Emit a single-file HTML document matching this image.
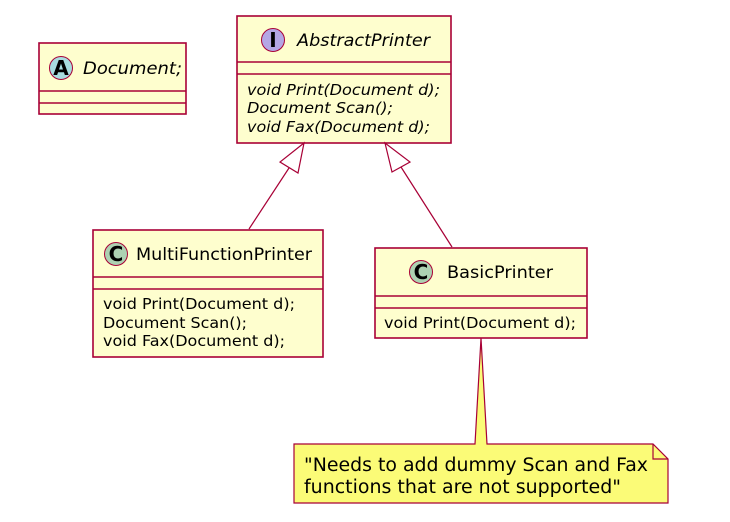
<!DOCTYPE html>
<html><head><meta charset="utf-8"><style>
html,body{margin:0;padding:0;background:#fff;}
svg{display:block;font-family:"DejaVu Sans","Liberation Sans",sans-serif;}
</style></head><body>
<svg width="730" height="522" viewBox="0 0 730 522" xmlns="http://www.w3.org/2000/svg">
<g stroke="#A80036" stroke-width="1.6" fill="#FEFECE">
<rect x="39" y="43" width="147" height="71"/>
<line x1="39" y1="91" x2="186" y2="91"/>
<line x1="39" y1="103" x2="186" y2="103"/>
<rect x="237" y="16" width="214" height="127"/>
<line x1="237" y1="62" x2="451" y2="62"/>
<line x1="237" y1="74" x2="451" y2="74"/>
<rect x="93" y="230" width="230" height="127"/>
<line x1="93" y1="277" x2="323" y2="277"/>
<line x1="93" y1="289" x2="323" y2="289"/>
<rect x="375" y="248" width="212" height="90"/>
<line x1="375" y1="296" x2="587" y2="296"/>
<line x1="375" y1="308" x2="587" y2="308"/>
</g>
<g stroke="#A80036" stroke-width="1" fill="#ADD1B2">
<circle cx="61" cy="68" r="11.5" fill="#A9DCDF"/>
<circle cx="273" cy="40" r="11.5" fill="#B4A7E5"/>
<circle cx="116" cy="254" r="11.5"/>
<circle cx="421" cy="272" r="11.5"/>
</g>
<g font-weight="bold" font-size="20" text-anchor="middle" fill="#000">
<text x="61" y="75">A</text>
<text x="273" y="47">I</text>
<text x="116" y="261">C</text>
<text x="421" y="279">C</text>
</g>
<g font-size="17" fill="#000">
<text x="83" y="74" font-style="italic" textLength="99" lengthAdjust="spacingAndGlyphs">Document;</text>
<text x="297" y="46" font-style="italic" textLength="133" lengthAdjust="spacingAndGlyphs">AbstractPrinter</text>
<text x="136" y="260" textLength="176" lengthAdjust="spacingAndGlyphs">MultiFunctionPrinter</text>
<text x="447" y="278" textLength="106" lengthAdjust="spacingAndGlyphs">BasicPrinter</text>
</g>
<g font-size="15.5" fill="#000">
<text font-style="italic" x="247" y="95" textLength="193" lengthAdjust="spacingAndGlyphs">void Print(Document d);</text>
<text font-style="italic" x="247" y="113" textLength="146" lengthAdjust="spacingAndGlyphs">Document Scan();</text>
<text font-style="italic" x="247" y="132" textLength="183" lengthAdjust="spacingAndGlyphs">void Fax(Document d);</text>
<text x="103" y="309" textLength="192" lengthAdjust="spacingAndGlyphs">void Print(Document d);</text>
<text x="103" y="328" textLength="144" lengthAdjust="spacingAndGlyphs">Document Scan();</text>
<text x="103" y="346" textLength="182" lengthAdjust="spacingAndGlyphs">void Fax(Document d);</text>
<text x="384" y="328" textLength="192" lengthAdjust="spacingAndGlyphs">void Print(Document d);</text>
</g>
<g stroke="#A80036" stroke-width="1.2" fill="none">
<line x1="249" y1="229" x2="289" y2="168"/>
<polygon points="304,143 280,162 298,173" fill="#fff"/>
<line x1="452" y1="247" x2="401" y2="167"/>
<polygon points="385,143 392,172 410,162" fill="#fff"/>
</g>
<path d="M294,444 L475,444 L481,338 L487,444 L653,444 L668,459 L668,503 L294,503 Z" fill="#FBFB77" stroke="#A80036" stroke-width="1.2"/>
<path d="M653,444 L653,459 L668,459" fill="none" stroke="#A80036" stroke-width="1.2"/>
<g font-size="18.5" fill="#000">
<text x="304" y="471" textLength="344" lengthAdjust="spacingAndGlyphs">"Needs to add dummy Scan and Fax</text>
<text x="304" y="493" textLength="317" lengthAdjust="spacingAndGlyphs">functions that are not supported"</text>
</g>
</svg>
</body></html>
